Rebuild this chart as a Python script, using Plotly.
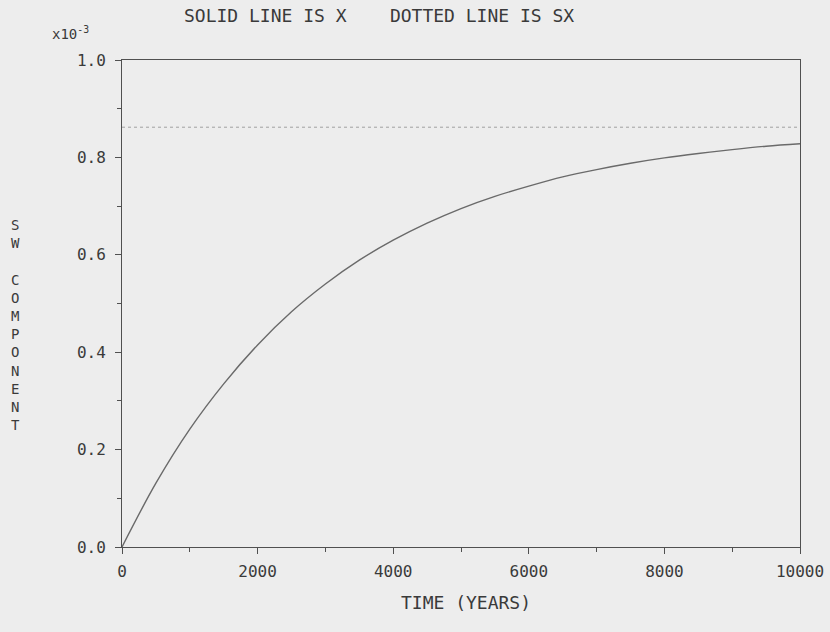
import plotly.graph_objects as go

# Time (years)
time_years = [0, 500, 1000, 1500, 2000, 2500, 3000, 3500, 4000, 4500, 5000,
              5500, 6000, 6500, 7000, 7500, 8000, 8500, 9000, 9500, 10000]
# Solid line X (units of 1e-3)
x_component = [0.0, 0.131, 0.242, 0.335, 0.415, 0.483, 0.540, 0.589, 0.630, 0.665, 0.695,
               0.720, 0.741, 0.760, 0.775, 0.788, 0.799, 0.808, 0.816, 0.823, 0.828]
# Dotted line SX (units of 1e-3)
sx_time = [0, 10000]
sx_value = [0.862, 0.862]

y_ticks = [0.0, 0.2, 0.4, 0.6, 0.8, 1.0]
x_ticks = [0, 2000, 4000, 6000, 8000, 10000]

ink = "#505050"
txt = "#3a3a3a"
bg = "#ededed"
font = "DejaVu Sans Mono"

fig = go.Figure()
fig.add_trace(go.Scatter(x=sx_time, y=sx_value, mode="lines",
                         line=dict(color="#a0a0a0", width=1, dash="dot"),
                         showlegend=False, hoverinfo="skip"))
fig.add_trace(go.Scatter(x=time_years, y=x_component, mode="lines",
                         line=dict(color="#6a6a6a", width=1.4, shape="spline"),
                         showlegend=False))

axis_common = dict(showline=True, linecolor=ink, linewidth=1, mirror=True,
                   showgrid=False, zeroline=False, ticks="outside", ticklen=6,
                   tickcolor=ink, tickwidth=1, automargin=False,
                   tickfont=dict(family=font, size=16, color=txt))

fig.update_xaxes(range=[0, 10000], tickvals=x_ticks, ticktext=[str(v) for v in x_ticks],
                 minor=dict(ticks="outside", dtick=1000, ticklen=4, tickcolor=ink),
                 ticklabelstandoff=4, **axis_common)
fig.update_yaxes(range=[0, 1.0], tickvals=y_ticks, ticktext=[f"{v:.1f}" for v in y_ticks],
                 minor=dict(ticks="outside", dtick=0.1, ticklen=4, tickcolor=ink),
                 ticklabelstandoff=6, **axis_common)

fig.update_layout(
    width=830, height=632,
    margin=dict(l=122, r=30, t=60, b=85),
    paper_bgcolor=bg, plot_bgcolor=bg,
    font=dict(family=font, color=txt),
    annotations=[
        dict(text="SOLID LINE IS X    DOTTED LINE IS SX", xref="paper", yref="paper",
             x=(379 - 122) / 678, y=1 + (60 - 15) / 487, showarrow=False,
             font=dict(family=font, size=18, color=txt), xanchor="center", yanchor="middle"),
        dict(text="x10<sup>-3</sup>", xref="paper", yref="paper",
             x=(50 - 122) / 678, y=1 + (60 - 33) / 487, showarrow=False,
             font=dict(family=font, size=14, color=txt), xanchor="left", yanchor="middle"),
        dict(text="S<br>W<br> <br>C<br>O<br>M<br>P<br>O<br>N<br>E<br>N<br>T",
             xref="paper", yref="paper", x=(16 - 122) / 678, y=(547 - 325) / 487,
             showarrow=False, font=dict(family=font, size=14, color=txt),
             xanchor="center", yanchor="middle"),
        dict(text="TIME (YEARS)", xref="paper", yref="paper",
             x=(466 - 122) / 678, y=-(602 - 547) / 487, showarrow=False,
             font=dict(family=font, size=18, color=txt), xanchor="center", yanchor="middle"),
    ],
)

fig.write_html("out.html")
